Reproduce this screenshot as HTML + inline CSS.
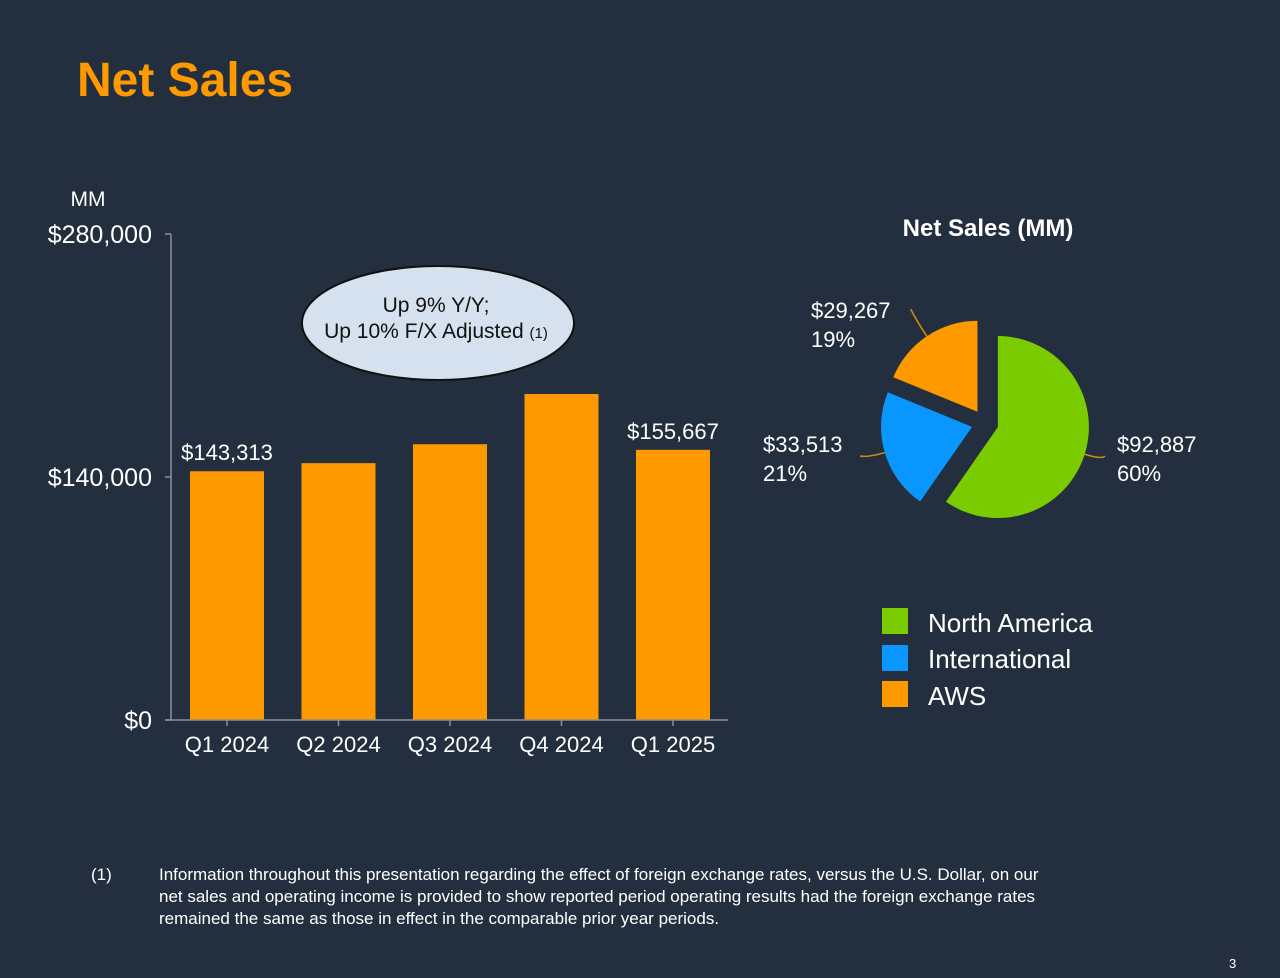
<!DOCTYPE html>
<html><head><meta charset="utf-8">
<style>
html,body{margin:0;padding:0;background:#232F3E;}
body{width:1280px;height:978px;overflow:hidden;font-family:"Liberation Sans",sans-serif;}
svg{display:block}
</style></head>
<body>
<svg width="1280" height="978" viewBox="0 0 1280 978" id="root">
<rect width="1280" height="978" fill="#232F3E"/>
<text x="77" y="96" font-size="48" font-weight="bold" fill="#FF9900">Net Sales</text>
<text x="88" y="206" font-size="21" fill="#fff" text-anchor="middle">MM</text>
<g id="bars"></g>
<g id="pie"></g>
<ellipse cx="438" cy="323" rx="136" ry="57" fill="#D5E1EE" stroke="#111" stroke-width="2"/>
<text x="436" y="312" font-size="21" fill="#111" text-anchor="middle">Up 9% Y/Y;</text>
<text x="436" y="338" font-size="21" fill="#111" text-anchor="middle">Up 10% F/X Adjusted <tspan font-size="15">(1)</tspan></text>
<text x="988" y="236" font-size="24" font-weight="bold" fill="#fff" text-anchor="middle">Net Sales (MM)</text>
<g>
<rect x="882" y="608" width="26" height="26" fill="#7ACC00"/>
<text x="928" y="632" font-size="26" fill="#fff">North America</text>
<rect x="882" y="645" width="26" height="26" fill="#0A96FF"/>
<text x="928" y="668" font-size="26" fill="#fff">International</text>
<rect x="882" y="681" width="26" height="26" fill="#FF9900"/>
<text x="928" y="705" font-size="26" fill="#fff">AWS</text>
</g>
<g font-size="17" fill="#fff">
<text x="91" y="880">(1)</text>
<text x="159" y="880">Information throughout this presentation regarding the effect of foreign exchange rates, versus the U.S. Dollar, on our</text>
<text x="159" y="902">net sales and operating income is provided to show reported period operating results had the foreign exchange rates</text>
<text x="159" y="924">remained the same as those in effect in the comparable prior year periods.</text>
</g>
<text x="1229" y="968" font-size="13" fill="#fff">3</text>
</svg>
<script>
const categories=["Q1 2024","Q2 2024","Q3 2024","Q4 2024","Q1 2025"];
const salesValues=[143313,147977,158877,187792,155667];
const printedLabels=["$143,313",null,null,null,"$155,667"];
const yTicks=[0,140000,280000];
const yTickLabels=["$0","$140,000","$280,000"];
const segNames=["North America","International","AWS"];
const segValues=[92887,33513,29267];
const segLabels=["$92,887","$33,513","$29,267"];
const segPct=["60%","21%","19%"];

const NS="http://www.w3.org/2000/svg";
function mk(tag,attrs,parent,text){const e=document.createElementNS(NS,tag);for(const k in attrs)e.setAttribute(k,attrs[k]);if(text!=null)e.textContent=text;parent.appendChild(e);return e;}
const Y0=720,Y1=234,YMAX=280000;
function y(v){return Y0-(v/YMAX)*(Y0-Y1);}
const X0=171,step=111.5,barW=74;
function xc(i){return 227+i*step;}
const bars=document.getElementById('bars');
yTicks.forEach((t,i)=>{
  const tl=mk('line',{x1:165,x2:171,y1:y(t),y2:y(t),stroke:'#8a9098','stroke-width':1.5},bars);
  
  
  const tx=mk('text',{x:152,y:y(t)+9,'font-size':25,fill:'#fff','text-anchor':'end'},bars,yTickLabels[i]);
  
  
});
salesValues.forEach((v,i)=>{
  const r=mk('rect',{x:xc(i)-barW/2,y:y(v),width:barW,height:Y0-y(v),fill:'#FF9900'},bars);
  
  
  const c=mk('text',{x:xc(i),y:752,'font-size':22,fill:'#fff','text-anchor':'middle'},bars,categories[i]);
  
  
  const tk=mk('line',{x1:xc(i),x2:xc(i),y1:Y0,y2:Y0+6,stroke:'#8a9098','stroke-width':1.5},bars);
  
  
  if(printedLabels[i]){
    const l=mk('text',{x:xc(i),y:y(v)-11,'font-size':22,fill:'#fff','text-anchor':'middle'},bars,printedLabels[i]);
    
    
  }
});
const ya=mk('line',{x1:X0,x2:X0,y1:Y1,y2:Y0,stroke:'#8a9098','stroke-width':1.5},bars);


const xa=mk('line',{x1:165,x2:728,y1:Y0,y2:Y0,stroke:'#8a9098','stroke-width':1.5},bars);



// pie
const pie=document.getElementById('pie');
const CX=985,CY=423,R=91,OFF=13.5;
const colors=["#7ACC00","#0A96FF","#FF9900"];
const total=segValues.reduce((a,b)=>a+b,0);
function pt(cx,cy,r,a){return [cx+r*Math.sin(a),cy-r*Math.cos(a)];}
let acc=0;
const labelPos=[[1117,452,'start'],[763,452,'start'],[811,318,'start']];
segValues.forEach((v,i)=>{
  const a0=acc/total*2*Math.PI;acc+=v;const a1=acc/total*2*Math.PI;const am=(a0+a1)/2;
  const cx=CX+OFF*Math.sin(am),cy=CY-OFF*Math.cos(am);
  const p0=pt(cx,cy,R,a0),p1=pt(cx,cy,R,a1);
  const large=(a1-a0)>Math.PI?1:0;
  const s=mk('path',{d:`M${cx},${cy} L${p0[0]},${p0[1]} A${R},${R} 0 ${large} 1 ${p1[0]},${p1[1]} Z`,fill:colors[i]},pie);
  
  
  const e=pt(cx,cy,R,am),o=pt(cx,cy,R+18,am);
  const lp=labelPos[i];
  const ld=mk('path',{d:`M${e[0]},${e[1]} Q${o[0]},${o[1]} ${i==0?lp[0]-12:(i==1?lp[0]+97:o[0]-6)},${i==2?o[1]-12:lp[1]+4}`,fill:'none',stroke:'#D98A10','stroke-width':1.5},pie);
  
  
  const t1=mk('text',{x:lp[0],y:lp[1],'font-size':22,fill:'#fff'},pie,segLabels[i]);
  
  
  const t2=mk('text',{x:lp[0],y:lp[1]+29,'font-size':22,fill:'#fff'},pie,segPct[i]);
  
  
});
</script>
</body></html>
